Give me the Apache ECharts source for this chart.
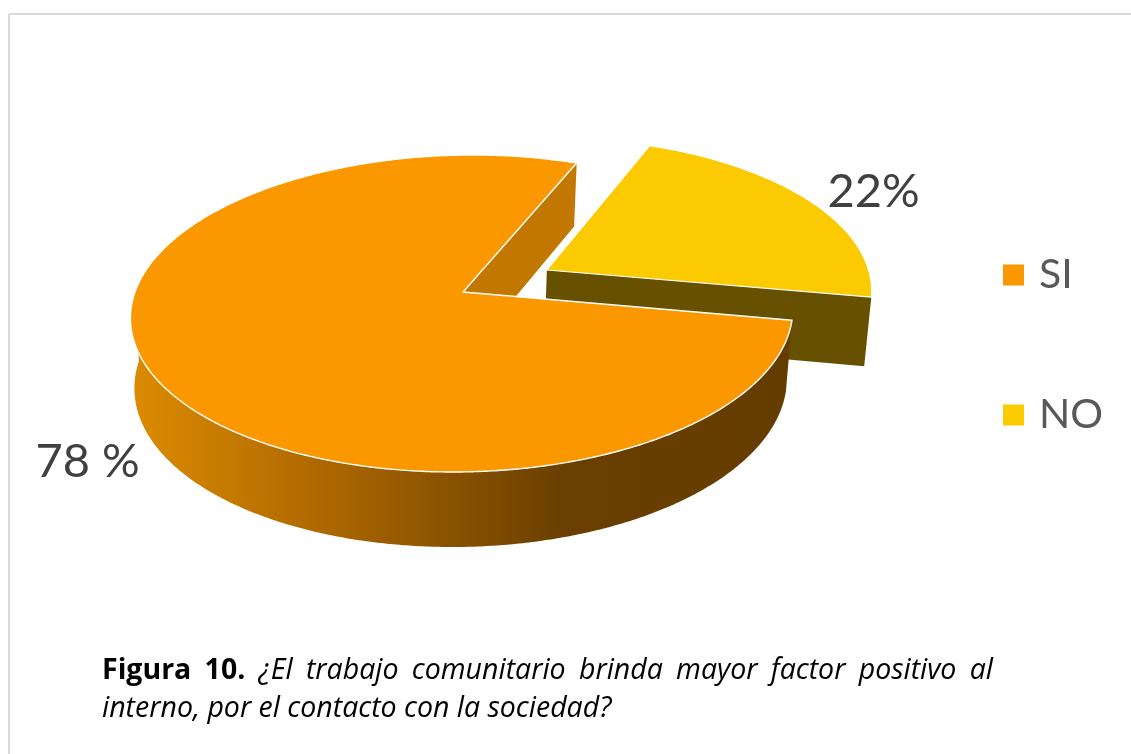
<!DOCTYPE html>
<html><head><meta charset="utf-8">
<style>html,body{margin:0;padding:0;background:#fff}#c{width:1131px;height:754px}</style>
<script src="https://cdn.jsdelivr.net/npm/echarts@6/dist/echarts.min.js"></script>
</head><body><div id="c"></div>
<script>
const categories = ['SI', 'NO'];
const shares = [78, 22];
const valueLabels = ['78 %', '22%'];
const captionBold = 'Figura 10.';
const captionLine1 = '¿El trabajo comunitario brinda mayor factor positivo al';
const captionLine2 = 'interno, por el contacto con la sociedad?';

const total = shares[0] + shares[1];
const startDeg = 69;
const siEnd = startDeg + shares[0] / total * 360;
const noEnd = siEnd + shares[1] / total * 360;
const G = {cx: 463, R: 328, yc: 292, a: -116, c: 0.1356, explode: 0.294, shear: 10};

function proj(u, v, low) {
  const w = 1 + G.c * v;
  return [G.cx + G.R * u / w * (low ? 0.985 : 1) + G.shear * v - (low ? 1 : 0),
          (G.yc + G.a * v) / w + (low ? 69 - 6 * v : 0)];
}
function rad(d) { return d * Math.PI / 180; }
function rim(from, to, off, low) {
  const pts = [], n = Math.ceil(Math.abs(to - from) * 2);
  for (let i = 0; i <= n; i++) {
    const t = rad(from + (to - from) * i / n);
    pts.push(proj(Math.cos(t) + off[0], Math.sin(t) + off[1], low));
  }
  return pts;
}
const noMid = rad((siEnd + noEnd) / 2);
const noOff = [G.explode * Math.cos(noMid), G.explode * Math.sin(noMid)];
const zero = [0, 0];
function poly(points, style, z2) {
  return {type: 'polygon', shape: {points}, style, z2};
}
function renderNO() {
  const apexT = proj(noOff[0], noOff[1], false), apexB = proj(noOff[0], noOff[1], true);
  const t = rad(siEnd);
  const u = Math.cos(t) + noOff[0], v = Math.sin(t) + noOff[1];
  const rimT = proj(u, v, false), rimB = proj(u, v, true);
  const top = [apexT].concat(rim(siEnd, noEnd, noOff, false));
  return {type: 'group', children: [
    poly([apexT, rimT, rimB, apexB], {fill: '#675100'}, 1),
    poly(top, {fill: '#FBCA00', stroke: '#fff', lineWidth: 1.2, lineJoin: 'round'}, 2),
    {type: 'text', z2: 3, style: {text: valueLabels[1], x: 873.5, y: 192, align: 'center', verticalAlign: 'middle',
      font: '47px Lato', fill: '#404040'}}
  ]};
}
function renderSI() {
  const apex = proj(0, 0, false), apexB = proj(0, 0, true);
  const t0 = rad(startDeg);
  const u0 = Math.cos(t0), v0 = Math.sin(t0);
  const side = rim(180, siEnd, zero, false).concat(rim(180, siEnd, zero, true).reverse());
  const grad = new echarts.graphic.LinearGradient(140, 0, 790, 0, [
    {offset: 0, color: '#DA8A00'}, {offset: 0.25, color: '#B36B00'},
    {offset: 0.65, color: '#6A3F00'}, {offset: 1, color: '#653C00'}], true);
  const top = [apex].concat(rim(startDeg, siEnd, zero, false));
  return {type: 'group', children: [
    poly([apex, proj(u0, v0, false), proj(u0, v0, true), apexB], {fill: '#C27700'}, 1),
    poly(side, {fill: grad}, 2),
    poly(top, {fill: '#FB9800', stroke: '#fff', lineWidth: 1.4, lineJoin: 'round'}, 3),
    {type: 'text', z2: 4, style: {text: valueLabels[0], x: 87.5, y: 462, align: 'center', verticalAlign: 'middle',
      font: '47px Lato', fill: '#404040'}}
  ]};
}

// caption laid out word by word, first line justified
const meas = document.createElement('canvas').getContext('2d');
const fs = 28.5, L = 102, Rt = 993, y1 = 669, y2 = 707;
const fBold = 'bold ' + fs + 'px "Open Sans"', fIt = 'italic ' + fs + 'px "Open Sans"';
const words = captionBold.split(' ').map(w => [w, fBold]).concat(captionLine1.split(' ').map(w => [w, fIt]));
let sum = 0;
words.forEach(w => { meas.font = w[1]; w[2] = meas.measureText(w[0]).width; sum += w[2]; });
const gap = (Rt - L - sum) / (words.length - 1);
const caption = [];
let xp = L;
words.forEach(w => {
  caption.push({type: 'text', left: xp, top: y1 - fs * 0.43, style: {text: w[0], font: w[1], fill: '#000'}});
  xp += w[2] + gap;
});
caption.push({type: 'text', left: L, top: y2 - fs * 0.43, style: {text: captionLine2, font: fIt, fill: '#000'}});
// frame
caption.push({type: 'line', shape: {x1: 9, y1: 14, x2: 1131, y2: 14}, style: {stroke: '#D9D9D9', lineWidth: 2}});
caption.push({type: 'line', shape: {x1: 9, y1: 14, x2: 9, y2: 754}, style: {stroke: '#D9D9D9', lineWidth: 2}});

const chart = echarts.init(document.getElementById('c'), null, {renderer: 'canvas'});
chart.setOption({
  animation: false,
  backgroundColor: '#fff',
  legend: {
    data: categories, orient: 'vertical', left: 998, top: 249.5,
    icon: 'rect', itemWidth: 21, itemHeight: 21, itemGap: 99,
    textStyle: {fontFamily: 'Lato', fontSize: 41, color: '#595959', lineHeight: 21, padding: [0, 0, 0, 10]}
  },
  graphic: caption,
  series: [
    {type: 'custom', name: categories[1], coordinateSystem: 'none', data: [shares[1]], renderItem: renderNO,
     itemStyle: {color: '#FBCA00'}, silent: true},
    {type: 'custom', name: categories[0], coordinateSystem: 'none', data: [shares[0]], renderItem: renderSI,
     itemStyle: {color: '#FB9800'}, silent: true}
  ]
});
</script></body></html>
